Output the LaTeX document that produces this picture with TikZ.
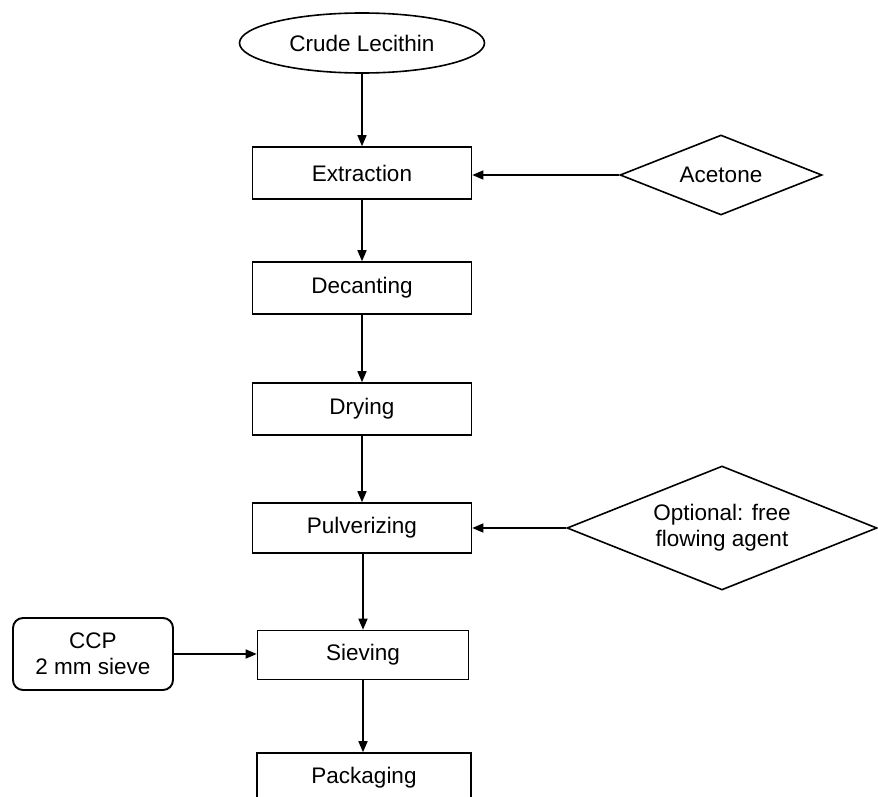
\documentclass[tikz,border=0pt]{standalone}
\usepackage{fontspec}
\setmainfont{Liberation Sans}
\usetikzlibrary{shapes.geometric,arrows.meta}
\begin{document}
\begin{tikzpicture}[x=1pt,y=-1pt,
  every node/.style={font=\fontsize{22.5}{26}\selectfont, align=center, inner sep=0pt},
  proc/.style={draw, line width=1.6pt, rectangle, minimum width=219pt, minimum height=52pt},
  diam/.style={draw, line width=1.6pt, diamond, aspect=2.5},
  conn/.style={line width=1.6pt, -{Triangle[length=11pt,width=9pt]}}]
\useasboundingbox (0,0) rectangle (878,797);
\node[draw, line width=1.6pt, ellipse, minimum width=245pt, minimum height=60pt] (crude) at (362,43) {Crude Lecithin};
\node[proc] (extr) at (362,173) {Extraction};
\node[diam, minimum width=202pt, minimum height=80pt] (acet) at (721,175) {Acetone};
\node[proc] (deca) at (362,288) {Decanting};
\node[proc] (dry) at (362,409) {Drying};
\node[proc, minimum height=50pt] (pulv) at (362,528) {Pulverizing};
\node[diam, minimum width=310pt, minimum height=124pt] (opt) at (722,528) {Optional: free\\flowing agent};
\node[proc, minimum width=211pt, minimum height=49pt] (siev) at (363,655) {Sieving};
\node[draw, line width=1.9pt, rounded corners=10pt, minimum width=160pt, minimum height=72pt] (ccp) at (93,654) {CCP\\2 mm sieve};
\node[proc, minimum width=214pt, minimum height=50pt] (pack) at (364,778) {Packaging};
\draw[conn] (crude.south) -- (extr.north);
\draw[conn] (acet.west) -- (extr.east |- acet.west);
\draw[conn] (extr.south) -- (deca.north);
\draw[conn] (deca.south) -- (dry.north);
\draw[conn] (dry.south) -- (pulv.north);
\draw[conn] (opt.west) -- (pulv.east |- opt.west);
\draw[conn] (pulv.south -| siev.north) -- (siev.north);
\draw[conn] (ccp.east) -- (siev.west |- ccp.east);
\draw[conn] (siev.south) -- (pack.north -| siev.south);
\end{tikzpicture}
\end{document}
